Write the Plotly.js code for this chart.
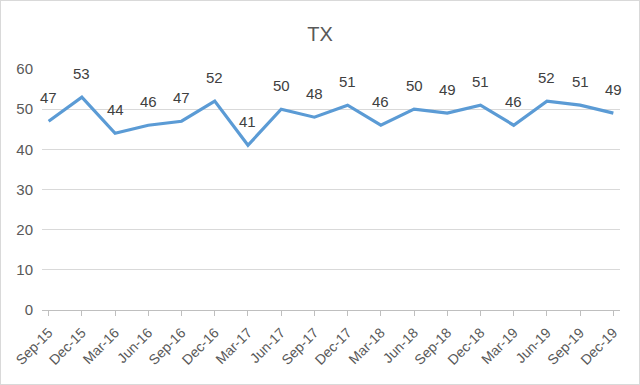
<!DOCTYPE html>
<html>
<head>
<meta charset="utf-8">
<script src="https://cdn.plot.ly/plotly-3.0.1.min.js"></script>
<style>
html,body{margin:0;padding:0;background:#fff;}
#chart{width:638px;height:383px;border:1px solid #d9d9d9;}
</style>
</head>
<body>
<div id="chart"></div>
<script>
const categories = ["Sep-15","Dec-15","Mar-16","Jun-16","Sep-16","Dec-16","Mar-17","Jun-17","Sep-17","Dec-17","Mar-18","Jun-18","Sep-18","Dec-18","Mar-19","Jun-19","Sep-19","Dec-19"];
const values = [47,53,44,46,47,52,41,50,48,51,46,50,49,51,46,52,51,49];
const yTicks = [0,10,20,30,40,50,60];

const FONT = 'Liberation Sans, Arial, sans-serif';
const idx = categories.map((c,i)=>i);
const trace = {
  x: idx, y: values, type: 'scatter', mode: 'lines',
  line: {color: '#5B9BD5', width: 3.2},
  hoverinfo: 'none'
};
const annotations = values.map((v,i)=>({
  x: i, y: v, xref: 'x', yref: 'y', text: String(v), showarrow: false,
  yanchor: 'bottom', yshift: 13,
  font: {family: FONT, size: 15, color: '#404040'}
}));
const layout = {
  width: 638, height: 383,
  margin: {l: 41, r: 19, t: 68, b: 74},
  paper_bgcolor: '#fff', plot_bgcolor: '#fff',
  showlegend: false,
  annotations: annotations,
  title: {text: 'TX', x: 0.5, xanchor: 'center', y: 0.915, yanchor: 'middle',
          font: {family: FONT, size: 20, color: '#595959'}},
  xaxis: {
    range: [-0.2, 17.2], tickmode: 'array', tickvals: idx, ticktext: categories,
    tickangle: -45, showgrid: false, zeroline: false,
    showline: false, ticks: 'outside', ticklen: 5, tickcolor: '#bfbfbf', tickwidth: 1,
    ticklabelstandoff: 3,
    tickfont: {family: FONT, size: 14, color: '#595959'}
  },
  yaxis: {
    range: [0, 60], tickmode: 'array', tickvals: yTicks,
    showgrid: true, gridcolor: '#d9d9d9', gridwidth: 1, zeroline: true, zerolinecolor: '#bfbfbf', zerolinewidth: 1,
    showline: false, ticks: '', ticklabelstandoff: 8,
    tickfont: {family: FONT, size: 15, color: '#595959'}
  }
};
Plotly.newPlot('chart', [trace], layout, {staticPlot: true});
</script>
</body>
</html>
